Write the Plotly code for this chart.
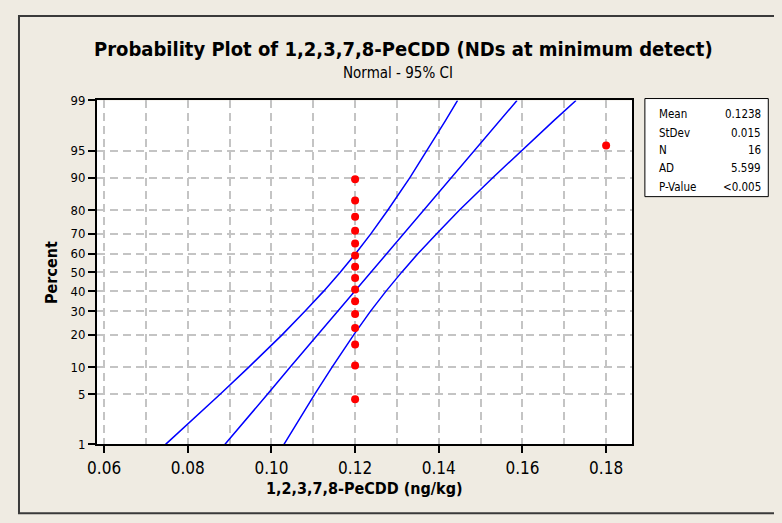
import plotly.graph_objects as go
from statistics import NormalDist

# ---------------- data ----------------
sample_x = [0.12] * 15 + [0.18]
sample_pct = [4.3, 10.4, 16.5, 22.6, 28.7, 34.8, 40.9, 47.0,
              53.0, 59.1, 65.2, 71.3, 77.4, 83.5, 89.6, 95.7]

line_pct = [1, 2, 5, 10, 20, 30, 40, 50, 60, 70, 80, 90, 95, 98, 99]
fit_x = [0.0889, 0.0929, 0.0991, 0.1045, 0.1111, 0.1159, 0.1200, 0.1238,
         0.1276, 0.1316, 0.1364, 0.1430, 0.1484, 0.1546, 0.1587]
ci_low_x = [0.0747, 0.0800, 0.0878, 0.0946, 0.1026, 0.1080, 0.1125, 0.1164,
            0.1201, 0.1238, 0.1278, 0.1331, 0.1372, 0.1416, 0.1445]
ci_high_x = [0.1030, 0.1059, 0.1104, 0.1145, 0.1197, 0.1237, 0.1274, 0.1311,
             0.1350, 0.1395, 0.1449, 0.1529, 0.1597, 0.1675, 0.1728]

y_tick_pct = [1, 5, 10, 20, 30, 40, 50, 60, 70, 80, 90, 95, 99]
x_ticks = [0.06, 0.08, 0.10, 0.12, 0.14, 0.16, 0.18]
x_minor = [0.07, 0.09, 0.11, 0.13, 0.15, 0.17]

stats_labels = ["Mean", "StDev", "N", "AD", "P-Value"]
stats_values = ["0.1238", "0.015", "16", "5.599", "<0.005"]

title = "Probability Plot of 1,2,3,7,8-PeCDD (NDs at minimum detect)"
subtitle = "Normal - 95% CI"
x_title = "1,2,3,7,8-PeCDD (ng/kg)"
y_title = "Percent"

# ---------------- helpers ----------------
W, H = 782, 523
OFF = 8  # the page body margin shifts the figure by 8px right and down
nd = NormalDist()


def probit(p):
    return nd.inv_cdf(p / 100.0)


def px(x):
    return (x - OFF) / W


def py(y):
    return 1 - (y - OFF) / H


FONT = "DejaVu Sans Condensed, Liberation Sans Narrow, DejaVu Sans, sans-serif"
BG = "#EFEBE2"
GRID = "#C4C4C4"

fig = go.Figure()

for xs in (ci_low_x, fit_x, ci_high_x):
    fig.add_trace(go.Scatter(
        x=xs, y=[probit(p) for p in line_pct], mode="lines",
        line=dict(color="#0000FF", width=1.5), hoverinfo="skip",
        showlegend=False))

fig.add_trace(go.Scatter(
    x=sample_x, y=[probit(p) for p in sample_pct], mode="markers",
    marker=dict(color="#FF0000", size=8, line=dict(width=0)),
    showlegend=False))

fig.update_layout(
    width=W, height=H,
    margin=dict(l=0, r=0, t=0, b=0),
    paper_bgcolor=BG, plot_bgcolor="white",
    font=dict(family=FONT, color="black"),
    showlegend=False,
    xaxis=dict(
        domain=[px(88), px(630)],
        range=[0.0583, 0.1862],
        tickmode="array", tickvals=x_ticks,
        ticktext=[f"{v:.2f}" for v in x_ticks],
        ticks="outside", ticklen=7, tickwidth=1.5, tickcolor="black",
        tickfont=dict(size=17, family=FONT),
        showgrid=True, gridcolor=GRID, gridwidth=1.5, griddash="8px,5px",
        minor=dict(tickmode="array", tickvals=x_minor,
                   showgrid=True, gridcolor=GRID, gridwidth=1.5,
                   griddash="8px,5px", ticks=""),
        showline=True, linecolor="black", linewidth=2, mirror=True,
        zeroline=False,
    ),
    yaxis=dict(
        domain=[py(450), py(96)],
        range=[probit(1), probit(99)],
        tickmode="array", tickvals=[probit(p) for p in y_tick_pct],
        ticktext=[str(p) for p in y_tick_pct],
        ticks="outside", ticklen=7, tickwidth=1.5, tickcolor="black",
        tickfont=dict(size=13, family=FONT),
        showgrid=True, gridcolor=GRID, gridwidth=1.5, griddash="8px,5px",
        showline=True, linecolor="black", linewidth=2, mirror=True,
        zeroline=False,
    ),
)

shapes = [
    # outer frame
    dict(type="rect", xref="paper", yref="paper",
         x0=px(9), x1=px(800), y0=py(521), y1=py(9),
         line=dict(color="#3A3A3A", width=2), fillcolor="rgba(0,0,0,0)",
         layer="above"),
    # stats box
    dict(type="rect", xref="paper", yref="paper",
         x0=px(643), x1=px(768), y0=py(195), y1=py(94),
         line=dict(color="black", width=1), fillcolor="white"),
]
fig.update_layout(shapes=shapes)

ann = [
    dict(text=f"<b>{title}</b>", x=px(398), y=py(43), font=dict(size=20)),
    dict(text=subtitle, x=px(393), y=py(68), font=dict(size=15)),
    dict(text=f"<b>{x_title}</b>", x=px(359), y=py(495), font=dict(size=16)),
    dict(text=f"<b>{y_title}</b>", x=px(42), y=py(273), font=dict(size=16),
         textangle=-90),
]
row_y = [110, 129, 147.5, 166, 185]
for lab, val, yy in zip(stats_labels, stats_values, row_y):
    ann.append(dict(text=lab, x=px(655), y=py(yy), xanchor="left",
                    font=dict(size=11.5)))
    ann.append(dict(text=val, x=px(763), y=py(yy), xanchor="right",
                    font=dict(size=11.5)))

for a in ann:
    a.setdefault("xanchor", "center")
    a.update(xref="paper", yref="paper", yanchor="middle", showarrow=False)
    a["font"].setdefault("family", FONT)
    a["font"].setdefault("color", "black")
fig.update_layout(annotations=ann)

fig.write_html("out.html",
               post_script="document.body.style.background='#EFEBE2';")
